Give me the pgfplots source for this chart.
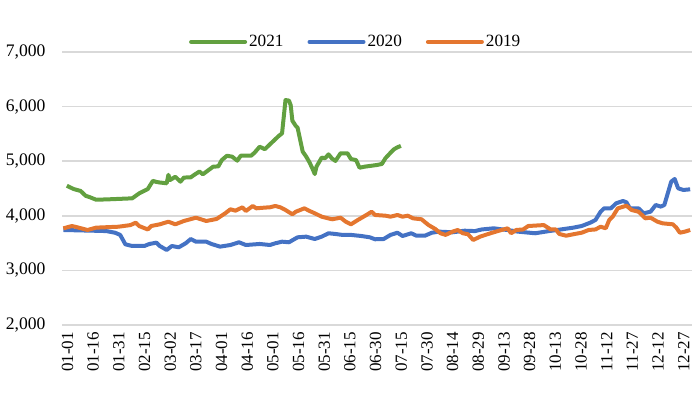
\documentclass[border=0pt]{standalone}
\usepackage{pgfplots}
\pgfplotsset{compat=1.18}
\usepackage{fontspec}
\setmainfont{Liberation Serif}
\definecolor{cgreen}{HTML}{62A040}
\definecolor{cblue}{HTML}{4472C4}
\definecolor{corange}{HTML}{E4762F}
\definecolor{cgrid}{HTML}{D9D9D9}
\begin{document}
\begin{tikzpicture}
\begin{axis}[
  at={(0,0)}, anchor=south west,
  scale only axis, width=314.6pt, height=136.5pt,
  xmin=-0.5, xmax=364.9, ymin=2000, ymax=7000,
  ytick={2000,3000,4000,5000,6000,7000},
  xtick={1.24,16.15,...,360},
  xticklabels={01-01,01-16,01-31,02-15,03-02,03-17,04-01,04-16,05-01,05-16,05-31,06-15,06-30,07-15,07-30,08-14,08-29,09-13,09-28,10-13,10-28,11-12,11-27,12-12,12-27},
  xticklabel style={rotate=90, anchor=east, font=\fontsize{8.5}{10}\selectfont, yshift=-1pt},
  yticklabel style={font=\fontsize{8.8}{10}\selectfont, xshift=-5pt},
  /pgf/number format/.cd, 1000 sep={,}, assume math mode=true, /pgfplots/.cd,
  ymajorgrids, xmajorgrids=false,
  grid style={cgrid, line width=0.75pt},
  axis line style={draw=none},
  major tick length=0pt,
  legend columns=-1,
  legend style={at={(0.466,1.037)}, anchor=center, draw=none, fill=none,
    font=\fontsize{8.6}{10}\selectfont, inner sep=0pt,
    nodes={inner xsep=1pt, inner ysep=1pt},
    /tikz/every even column/.append style={column sep=11pt}},
  legend image code/.code={\draw[#1, line cap=round] (0pt,0pt) -- (27pt,0pt);},
  every axis plot/.append style={line width=2pt, line join=round},
]
\addplot[cgreen] coordinates {
(2,4550)(6,4490)(10,4455)(13,4365)(15,4345)(19,4295)(25,4300)(40,4320)(44,4410)(49,4490)
(52,4640)(54,4620)(56,4610)(60,4595)(61,4750)(62,4655)(65,4715)(68,4625)(70,4700)(74,4705)
(76,4750)(79,4810)(81,4760)(87,4900)(90,4905)(92,5020)(95,5100)(98,5083)(101,5010)(103,5100)
(109,5100)(111,5155)(114,5265)(117,5220)(120,5310)(125,5460)(127,5510)(129,6120)(131,6110)(132,6030)
(133,5740)(135,5645)(136,5615)(139,5175)(141,5085)(143,4975)(145,4840)(146,4765)(147,4900)(150,5065)
(152,5055)(154,5125)(156,5050)(158,5005)(161,5145)(165,5145)(167,5040)(170,5020)(172,4880)(175,4900)
(182,4930)(185,4950)(187,5053)(190,5155)(192,5218)(194,5255)(196,5280)
};
\addlegendentry{2021}
\addplot[cblue] coordinates {
(0,3740)(17,3727)(25,3720)(30,3690)(33,3650)(36,3478)(40,3447)(47,3447)(50,3484)(54,3508)
(56,3447)(60,3374)(63,3447)(67,3423)(71,3496)(74,3575)(77,3526)(83,3526)(86,3484)(91,3435)
(97,3465)(102,3515)(106,3465)(114,3484)(120,3465)(123,3496)(127,3526)(131,3515)(136,3606)(141,3618)
(146,3575)(150,3618)(154,3680)(158,3667)(162,3650)(167,3650)(173,3630)(178,3606)(181,3570)(186,3575)
(190,3650)(194,3690)(197,3630)(202,3680)(205,3636)(210,3636)(214,3690)(218,3710)(226,3698)(233,3727)
(239,3720)(243,3750)(250,3771)(255,3750)(258,3740)(264,3710)(274,3680)(282,3720)(289,3750)(296,3782)
(301,3813)(306,3874)(309,3923)(312,4075)(314,4137)(318,4137)(321,4229)(325,4271)(327,4247)(329,4137)
(334,4137)(337,4046)(341,4075)(344,4198)(347,4168)(349,4198)(353,4625)(355,4675)(357,4504)(360,4473)
(364,4485)
};
\addlegendentry{2020}
\addplot[corange] coordinates {
(0,3770)(5,3813)(8,3790)(14,3740)(19,3783)(32,3800)(39,3830)(42,3874)(44,3813)(49,3750)
(51,3813)(56,3844)(61,3892)(65,3844)(70,3905)(77,3965)(83,3905)(89,3942)(94,4046)(97,4119)
(100,4094)(104,4156)(106,4088)(110,4180)(112,4137)(117,4150)(120,4156)(123,4180)(126,4156)(129,4106)
(133,4028)(135,4075)(140,4137)(143,4088)(146,4046)(150,3984)(156,3936)(161,3965)(164,3892)(167,3844)
(171,3923)(176,4015)(179,4075)(181,4015)(187,4002)(190,3984)(194,4015)(197,3984)(200,4002)(203,3954)
(208,3936)(212,3832)(216,3758)(219,3680)(222,3650)(226,3710)(229,3740)(232,3680)(235,3662)(238,3557)
(242,3618)(248,3680)(253,3727)(258,3771)(260,3680)(263,3740)(267,3750)(270,3813)(279,3830)(283,3750)
(286,3750)(288,3667)(292,3636)(297,3667)(301,3690)(305,3740)(309,3750)(312,3800)(315,3771)(317,3923)
(319,3984)(322,4137)(324,4156)(327,4185)(330,4106)(334,4075)(338,3954)(341,3965)(345,3892)(348,3862)
(354,3844)(356,3782)(358,3690)(361,3710)(364,3740)
};
\addlegendentry{2019}
\end{axis}
\pgfresetboundingbox
\useasboundingbox (-31.25pt,-35pt) rectangle (318.75pt,162.5pt);
\end{tikzpicture}
\end{document}
